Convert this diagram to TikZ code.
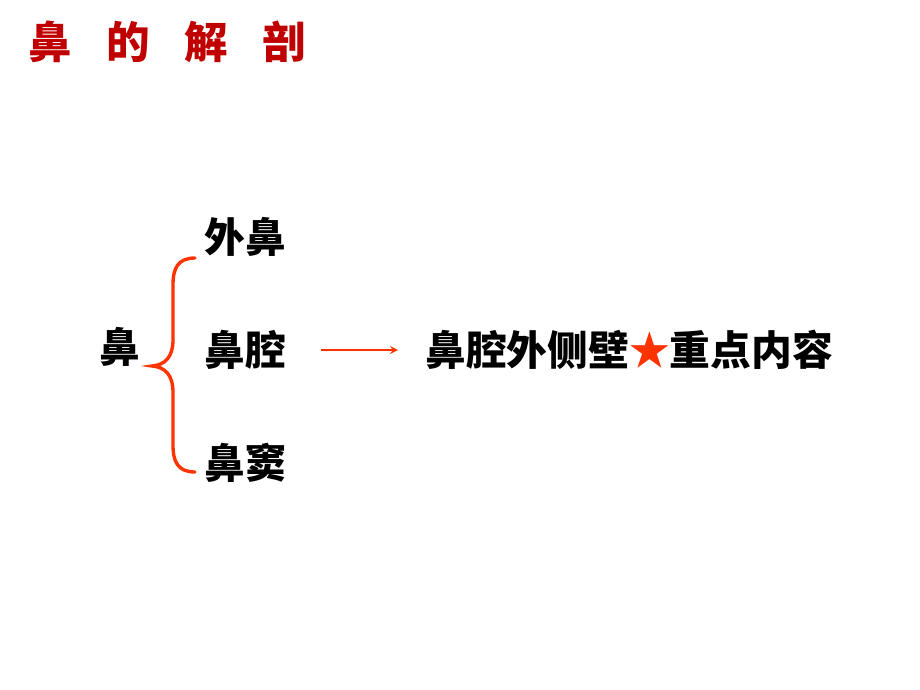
\documentclass[tikz,border=0pt]{standalone}
\usepackage{fontspec}
\newfontfamily\cjk{Noto Sans CJK SC}
\usetikzlibrary{positioning}
\definecolor{titlered}{HTML}{C00000}
\definecolor{linered}{HTML}{FF3300}
\tikzset{
  item/.style={font=\cjk\bfseries\fontsize{29}{32}\selectfont, inner sep=0pt},
  heading/.style={font=\cjk\bfseries\fontsize{31}{34}\selectfont, text=titlered, inner sep=0pt},
  link/.style={linered, line width=1.5pt, -stealth},
}
\begin{document}
\begin{tikzpicture}[x=0.025cm, y=-0.025cm]
    \useasboundingbox (0,0) rectangle (920,690);

    % title
    \node[heading] (title) at (167,42) {鼻\hspace{0.86cm}的\hspace{0.86cm}解\hspace{0.86cm}剖};

    % parts of the nose
    \node[item] (nose) at (120,347) {鼻};
    \node[item] (outer) at (245,237) {外鼻};
    \node[item] (cavity) at (245,350) {鼻腔};
    \node[item] (sinus) at (245,463) {鼻窦};
    \node[item, anchor=west] (wall) at (425,350) {鼻腔外侧壁{\color{linered}★}重点内容};

    % brace
    \draw[linered, line width=2.4pt, line cap=round]
      (195,258) .. controls (178,258) and (173,268) .. (173,285)
      -- (173,340) .. controls (173,357) and (165,365) .. (152,366)
      .. controls (165,367) and (173,375) .. (173,392)
      -- (173,445) .. controls (173,462) and (178,472) .. (195,472);

    \draw[link, shorten <=24.9pt, shorten >=19.2pt] (cavity.east) -- (wall.west |- cavity.east);
\end{tikzpicture}
\end{document}
